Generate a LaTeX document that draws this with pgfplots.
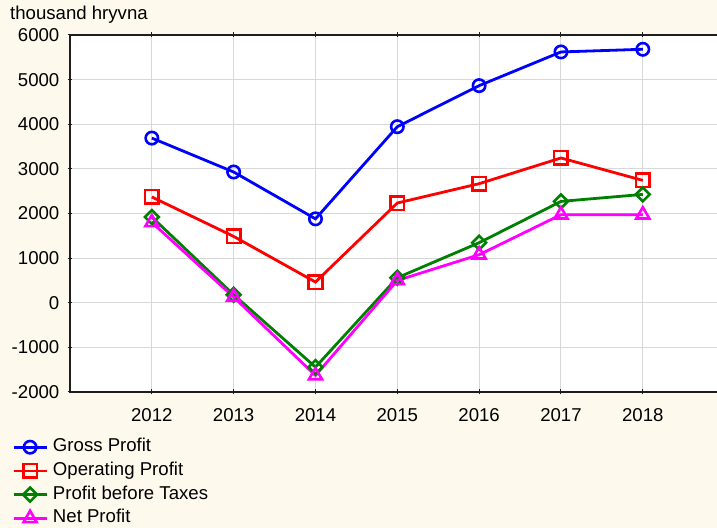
\documentclass[border=0pt]{standalone}
\usepackage{pgfplots}
\pgfplotsset{compat=1.18}
\usepackage{fontspec}
\setmainfont{Liberation Sans}
\definecolor{bg}{RGB}{253,249,236}
\definecolor{gridc}{RGB}{216,216,216}
\definecolor{spine}{RGB}{30,30,30}
\definecolor{cgreen}{RGB}{0,128,0}
\definecolor{cmag}{RGB}{255,0,255}
\begin{document}
\begin{tikzpicture}[x=1bp,y=1bp]
\fill[bg] (-70,-136) rectangle (647,392);
\useasboundingbox (-70,-136) rectangle (647,392);
\begin{axis}[
  at={(0,0)}, anchor=south west,
  scale only axis, width=647bp, height=357bp,
  xmin=2011, xmax=2018.907, ymin=-2000, ymax=6000,
  xtick={2012,2013,2014,2015,2016,2017,2018},
  ytick={-2000,-1000,0,1000,2000,3000,4000,5000,6000},
  /pgf/number format/assume math mode=true,
  xticklabel style={/pgf/number format/1000 sep={}, inner sep=0pt, anchor=north, yshift=-14bp},
  yticklabel style={/pgf/number format/1000 sep={}, inner sep=0pt, anchor=east, xshift=-8bp},
  tick label style={font=\fontsize{18.6bp}{21bp}\selectfont},
  axis background/.style={fill=white},
  axis line style={draw=none},
  grid=major,
  major grid style={gridc, line width=1bp},
  major tick length=5bp,
  tick style={spine, line width=1bp},
  xtick pos=both, ytick pos=left,
  tick align=center,
  clip=false,
  legend cell align=left,
  legend style={draw=none, fill=none, inner sep=0pt,
    at={(axis description cs:-0.08964,-0.12745)}, anchor=north west,
    row sep=4.7bp, column sep=4bp,
    nodes={inner sep=1bp, text height=13bp, text depth=4bp, font=\fontsize{18.6bp}{21bp}\selectfont}},
  legend image code/.code={\draw[#1, mark repeat=2, mark phase=2] plot coordinates {(0bp,0bp) (16.5bp,0bp) (33bp,0bp)};},
]
\addplot[blue, line width=2.8bp, mark=o, mark size=6.2bp, mark options={line width=2.6bp}]
  coordinates {(2012,3690) (2013,2930) (2014,1880) (2015,3945) (2016,4865) (2017,5620) (2018,5680)};
\addlegendentry{Gross Profit}
\addplot[red, line width=2.8bp, mark=square, mark size=6.8bp, mark options={line width=2.6bp}]
  coordinates {(2012,2370) (2013,1487) (2014,464) (2015,2235) (2016,2668) (2017,3244) (2018,2742)};
\addlegendentry{Operating Profit}
\addplot[cgreen, line width=2.8bp, mark=square, mark size=4.9bp, mark options={line width=2.6bp, rotate=45}]
  coordinates {(2012,1921) (2013,179) (2014,-1442) (2015,560) (2016,1345) (2017,2271) (2018,2428)};
\addlegendentry{Profit before Taxes}
\addplot[cmag, line width=2.8bp, mark=triangle, mark size=7.5bp, mark options={line width=2.6bp}]
  coordinates {(2012,1800) (2013,128) (2014,-1630) (2015,500) (2016,1076) (2017,1973) (2018,1973)};
\addlegendentry{Net Profit}
\draw[spine, line width=2bp] (rel axis cs:1,1) -- (rel axis cs:0,1) -- (rel axis cs:0,0) -- (rel axis cs:1,0);
\end{axis}
\node[anchor=base west, inner sep=0pt, font=\fontsize{18.6bp}{21bp}\selectfont] at (-60,372) {thousand hryvna};
\end{tikzpicture}
\end{document}
